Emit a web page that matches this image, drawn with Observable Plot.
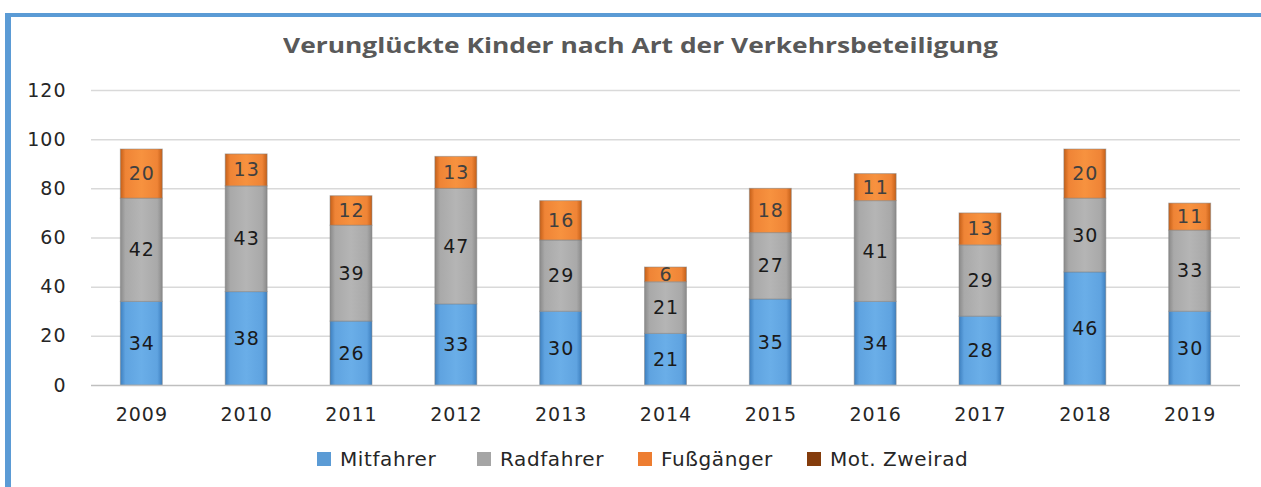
<!DOCTYPE html>
<html><head><meta charset="utf-8">
<script src="https://cdn.jsdelivr.net/npm/d3@7"></script>
<script src="https://cdn.jsdelivr.net/npm/@observablehq/plot@0.6"></script>
<style>
html,body{margin:0;padding:0;background:#fff;}
#wrap{position:relative;width:1261px;height:487px;overflow:hidden;font-family:"DejaVu Sans",sans-serif;}
#bl{position:absolute;left:5px;top:13px;width:6px;height:474px;background:#5b9bd5;}
#bt{position:absolute;left:5px;top:13px;width:1256px;height:4px;background:#5b9bd5;}
#title{position:absolute;left:0;top:31px;white-space:nowrap;font-family:"Open Sans",sans-serif;font-weight:bold;font-size:21px;color:#595959;transform-origin:0 50%;}
#chart{position:absolute;left:0;top:70px;}
.it{position:absolute;top:447px;display:flex;align-items:center;font-size:20px;color:#262626;letter-spacing:0.6px;white-space:nowrap;}
.sw{display:inline-block;width:14px;height:14px;margin-right:9px;}
</style></head><body>
<div id="wrap">
<div id="bl"></div><div id="bt"></div>
<div id="title">Verunglückte Kinder nach Art der Verkehrsbeteiligung</div>
<div id="chart"></div>
</div>
<script>
const years = ["2009","2010","2011","2012","2013","2014","2015","2016","2017","2018","2019"];
const mitfahrer = [34,38,26,33,30,21,35,34,28,46,30];
const radfahrer = [42,43,39,47,29,21,27,41,29,30,33];
const fussgaenger = [20,13,12,13,16,6,18,11,13,20,11];
const motZweirad = [0,0,0,0,0,0,0,0,0,0,0];
const seriesNames = ["Mitfahrer","Radfahrer","Fußgänger","Mot. Zweirad"];
const seriesColors = ["#5b9bd5","#a5a5a5","#ed7d31","#843c0c"];
const yTicks = [0,20,40,60,80,100,120];

const seriesVals = [mitfahrer, radfahrer, fussgaenger, motZweirad];
const rows = [];
years.forEach((yr,i)=>{
  seriesNames.forEach((s,j)=>{
    rows.push({year:yr, series:s, value:seriesVals[j][i]});
  });
});
const gradIds = ["gMit","gRad","gFus","gMot"];
const fillOf = Object.fromEntries(seriesNames.map((s,j)=>[s,`url(#${gradIds[j]})`]));
const labelRows = rows.filter(d=>d.value>0);

const plot = Plot.plot({
  width:1261, height:360,
  marginLeft:91, marginRight:21, marginTop:20, marginBottom:45,
  style:{fontFamily:"'DejaVu Sans',sans-serif", fontSize:"19px", color:"#262626", letterSpacing:"1px"},
  x:{domain:years, paddingInner:0.6, paddingOuter:0.28, round:false, label:null, tickSize:0, tickPadding:22},
  y:{domain:[0,120], ticks:yTicks, label:null, tickSize:0, tickPadding:25},
  marks:[
    Plot.gridY(yTicks.slice(1), {stroke:"#d9d9d9", strokeOpacity:1, strokeWidth:1.5}),
    Plot.barY(rows, {x:"year", y:"value", fill:d=>fillOf[d.series], stroke:"#7f7f7f", strokeOpacity:0.5, strokeWidth:1, order:seriesNames}),
    Plot.text(labelRows, Plot.stackY({x:"year", y:"value", order:seriesNames, text:d=>String(d.value), fill:d=>d.series==="Fußgänger"?"#404040":"#1a1a1a", fontSize:19})),
    Plot.ruleY([0], {stroke:"#bfbfbf", strokeWidth:1.5})
  ]
});
const ns="http://www.w3.org/2000/svg";
const defs=document.createElementNS(ns,"defs");
const shades=[["#3d7fbf","#6aaee8","#5fa3e0"],["#8a8a8a","#b5b5b5","#a9a9a9"],["#c45f18","#f7923f","#ef8436"],["#6b2f08","#8f4510","#843c0c"]];
gradIds.forEach((id,j)=>{
  const g=document.createElementNS(ns,"linearGradient");
  g.setAttribute("id",id); g.setAttribute("x1","0");g.setAttribute("x2","1");g.setAttribute("y1","0");g.setAttribute("y2","0");
  [[0,shades[j][0]],[0.12,shades[j][2]],[0.5,shades[j][1]],[0.88,shades[j][2]],[1,shades[j][0]]].forEach(([o,c])=>{
    const s=document.createElementNS(ns,"stop"); s.setAttribute("offset",o); s.setAttribute("stop-color",c); g.appendChild(s);
  });
  defs.appendChild(g);
});
plot.insertBefore(defs, plot.firstChild);
document.getElementById("chart").appendChild(plot);

const title=document.getElementById("title");
const tw=title.getBoundingClientRect().width;
const targetW=715, centerX=640;
title.style.left=(centerX-targetW/2)+"px";
title.style.transform=`scaleX(${targetW/tw})`;

const wrap=document.getElementById("wrap");
const legendX=[317,477,638,807];
seriesNames.forEach((s,j)=>{
  const it=document.createElement("div"); it.className="it"; it.style.left=legendX[j]+"px";
  const sw=document.createElement("span"); sw.className="sw"; sw.style.background=seriesColors[j];
  it.appendChild(sw); it.appendChild(document.createTextNode(s)); wrap.appendChild(it);
});
</script>
</body></html>
